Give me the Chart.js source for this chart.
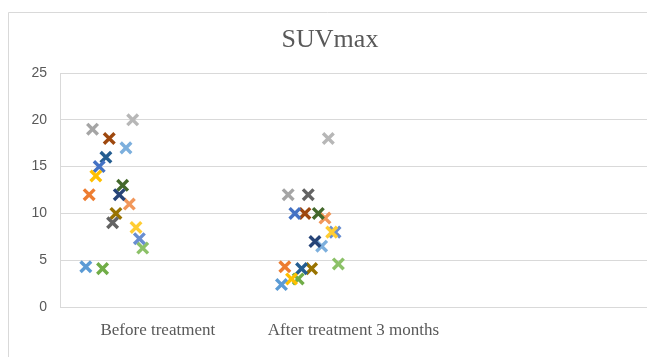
<!DOCTYPE html>
<html>
<head>
<meta charset="utf-8">
<script src="https://cdn.jsdelivr.net/npm/chart.js@4.4.1/dist/chart.umd.min.js"></script>
<style>
  html, body { margin: 0; padding: 0; background: #ffffff; overflow: hidden; }
  #chart { display: block; }
</style>
</head>
<body>
<canvas id="chart" width="647" height="357"></canvas>
<script>
// SUVmax per patient, before treatment and after 3 months of treatment
const categories = ['Before treatment', 'After treatment 3 months', ''];
const patients = ['P1', 'P2', 'P3', 'P4', 'P5', 'P6', 'P7', 'P8', 'P9',
                  'P10', 'P11', 'P12', 'P13', 'P14', 'P15', 'P16', 'P17', 'P18'];
const beforeValues = [4.3, 12, 19, 14, 15, 4.1, 16, 18, 9, 10, 12, 13, 17, 11, 20, 8.5, 7.3, 6.3];
const afterValues  = [2.4, 4.3, 12, 3, 10, 3, 4.1, 10, 12, 4.1, 7, 10, 6.5, 9.5, 18, 8, 8, 4.6];
const yTicks = [0, 5, 10, 15, 20, 25];

// Office palette, one colour per patient
const seriesColors = ['#5B9BD5', '#ED7D31', '#A5A5A5', '#FFC000', '#4472C4', '#70AD47',
                      '#255E91', '#9E480E', '#636363', '#997300', '#264478', '#43682B',
                      '#7CAFDD', '#F1975A', '#B7B7B7', '#FFCD33', '#698ED0', '#8CC168'];

// each patient sits at its own small horizontal offset inside a category
const spreadStart = -0.368;
const spreadStep = 0.0171;

const datasets = patients.map((name, i) => {
  const dx = spreadStart + i * spreadStep;
  return {
    label: name,
    data: [
      { x: 1 + dx, y: beforeValues[i] },
      { x: 2 + dx, y: afterValues[i] }
    ],
    pointStyle: 'crossRot',
    radius: 7.5,
    hoverRadius: 7.5,
    borderWidth: 3.4,
    borderColor: seriesColors[i],
    backgroundColor: seriesColors[i],
    showLine: false
  };
});

// white page with the thin chart frame (its right and bottom edges lie off the page)
const framePlugin = {
  id: 'frame',
  beforeDraw(chart) {
    const ctx = chart.ctx;
    ctx.save();
    ctx.fillStyle = '#ffffff';
    ctx.fillRect(0, 0, chart.width, chart.height);
    ctx.strokeStyle = '#D9D9D9';
    ctx.lineWidth = 1;
    ctx.beginPath();
    ctx.moveTo(8.5, chart.height);
    ctx.lineTo(8.5, 12.5);
    ctx.lineTo(chart.width, 12.5);
    ctx.stroke();
    ctx.restore();
  }
};

new Chart(document.getElementById('chart'), {
  type: 'scatter',
  data: { datasets },
  plugins: [framePlugin],
  options: {
    responsive: false,
    animation: false,
    layout: { autoPadding: false, padding: { top: 12, left: 13, right: 0, bottom: 0 } },
    plugins: {
      legend: { display: false },
      tooltip: { enabled: false },
      title: {
        display: true,
        text: 'SUVmax',
        color: '#595959',
        font: { family: '"Liberation Serif", "Times New Roman", serif', size: 26, weight: 'normal' },
        padding: { top: 13, bottom: 16.8 }
      }
    },
    scales: {
      x: {
        type: 'linear',
        min: 0.5,
        max: 3.5,
        afterBuildTicks(scale) {
          scale.ticks = categories.map((c, i) => ({ value: i + 1 }));
        },
        afterFit(scale) { scale.height = 50; },
        grid: { display: false, drawTicks: false },
        border: { display: true, color: '#D9D9D9', width: 1 },
        ticks: {
          color: '#595959',
          padding: 13,
          maxRotation: 0,
          autoSkip: false,
          font: { family: '"Liberation Serif", "Times New Roman", serif', size: 17 },
          callback: (v) => categories[Math.round(v) - 1] || ''
        }
      },
      y: {
        min: 0,
        max: 25,
        afterBuildTicks(scale) {
          scale.ticks = yTicks.map(v => ({ value: v }));
        },
        afterFit(scale) { scale.width = 47; },
        grid: { color: '#D9D9D9', lineWidth: 1, drawTicks: false },
        border: { display: true, color: '#D9D9D9', width: 1 },
        ticks: {
          color: '#595959',
          padding: 13,
          font: { family: '"Liberation Sans", Arial, sans-serif', size: 14 }
        }
      }
    }
  }
});
</script>
</body>
</html>
